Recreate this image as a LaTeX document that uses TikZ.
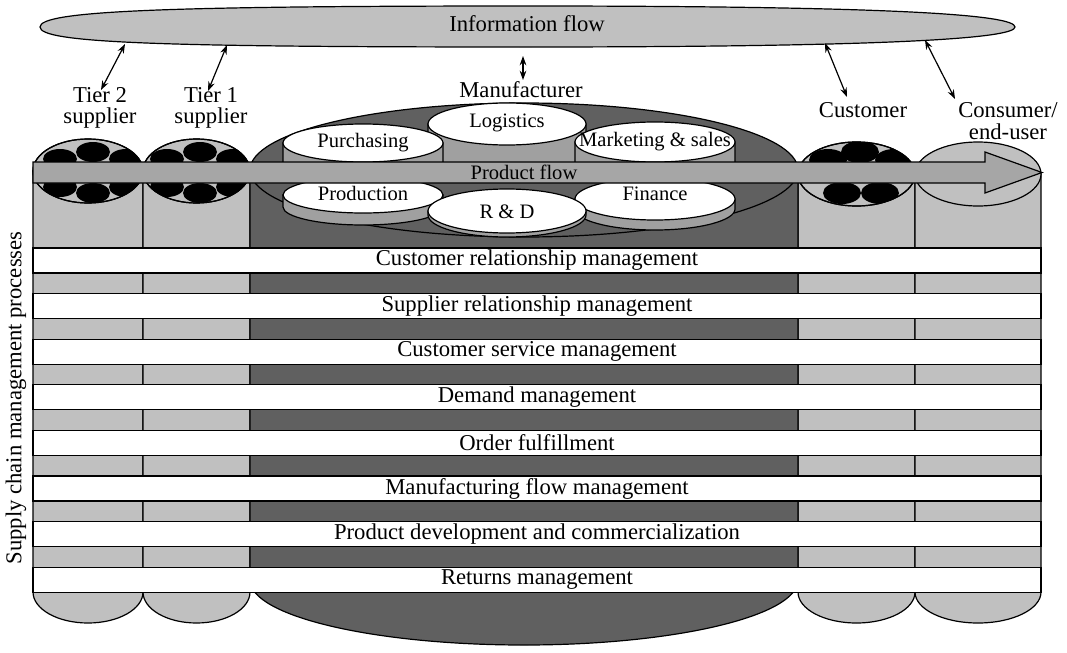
\documentclass[tikz,border=0pt]{standalone}
\usepackage{fontspec}
\setmainfont{Liberation Serif}
\usetikzlibrary{arrows.meta}

\definecolor{cylgray}{HTML}{C0C0C0}
\definecolor{mfgdark}{HTML}{606060}
\definecolor{flowgray}{HTML}{A6A6A6}
\definecolor{unitgray}{HTML}{A0A0A0}

\tikzset{
  outl/.style={draw=black, line width=0.9pt},
  lbl/.style={font=\fontsize{17}{16}\selectfont, align=center, inner sep=0pt},
  unitlbl/.style={font=\fontsize{15.4}{15}\selectfont, inner sep=0pt},
  link/.style={line width=0.9pt, {Stealth[length=7pt,width=5pt]}-{Stealth[length=7pt,width=5pt]}},
  band/.style={outl, fill=white},
  dot/.style={fill=black},
}

\begin{document}
\begin{tikzpicture}[x=0.75pt, y=-0.75pt]
\useasboundingbox (0,0) rectangle (1067,653);

% ---------- information flow ----------
\path[outl, fill=cylgray]
  (40,27) .. controls (40,43) and (160,47) .. (527,47)
  .. controls (900,47) and (1015,38) .. (1015,27)
  .. controls (1015,15) and (900,6) .. (527,6)
  .. controls (160,6) and (40,11) .. (40,27) -- cycle;
\node[lbl] (info) at (527,24) {Information flow};

% ---------- cylinder bodies ----------
% light cylinders: left x / right x / top-ellipse centre y
\foreach \xa/\xb/\yt in {33/143/171, 143/250/171, 798/915/174, 915/1041/174}{
  \path[outl, fill=cylgray] (\xa,\yt) -- (\xa,592)
    arc[start angle=180, end angle=0, x radius={(\xb-\xa)/2}, y radius=31]
    -- (\xb,\yt) -- cycle;
}
% manufacturer body
\path[outl, fill=mfgdark] (250,170) -- (250,580)
  arc[start angle=180, end angle=0, x radius=274, y radius=65]
  -- (798,170) -- cycle;

% ---------- cylinder tops with stock ----------
% suppliers: centre x / x radius / shift of the stock pattern
\foreach \cx/\rx/\sh in {88/55/0, 196.5/53.5/107}{
  \path[outl, fill=cylgray] (\cx,171) ellipse[x radius=\rx, y radius=32];
  \begin{scope}
    \clip (\cx,171) ellipse[x radius=\rx, y radius=32];
    \foreach \dx/\dy in {93/152, 60/159, 126/159, 60/187, 93/193, 126/187}
      \fill[dot] (\dx+\sh,\dy) ellipse[x radius=17, y radius=10];
  \end{scope}
  \path[outl] (\cx,171) ellipse[x radius=\rx, y radius=32];
}
% customer
\path[outl, fill=cylgray] (856.5,174) ellipse[x radius=58.5, y radius=32];
\begin{scope}
  \clip (856.5,174) ellipse[x radius=58.5, y radius=32];
  \foreach \dx/\dy in {860/152, 828/160, 894/160, 842/193, 880/193}
    \fill[dot] (\dx,\dy) ellipse[x radius=19, y radius=11];
\end{scope}
\path[outl] (856.5,174) ellipse[x radius=58.5, y radius=32];
% consumer
\path[outl, fill=cylgray] (978,174) ellipse[x radius=63, y radius=32];

% manufacturer top
\path[outl, fill=mfgdark] (524,170) ellipse[x radius=274, y radius=67];

% ---------- functional units inside the manufacturer ----------
% centre x / centre y / x radius / y radius / side height
\foreach \cx/\cy/\rx/\ry/\h in {507/124/79/21/30, 363/143/80/19/25, 655/142/80/20/25,
                               363/195/80/18/12, 655/199/80/21/10, 507/211/79/22/4}{
  \path[outl, fill=unitgray] (\cx-\rx,\cy) -- (\cx-\rx,\cy+\h)
    arc[start angle=180, end angle=0, x radius=\rx, y radius=\ry]
    -- (\cx+\rx,\cy) -- cycle;
  \path[outl, fill=white] (\cx,\cy) ellipse[x radius=\rx, y radius=\ry];
}

% ---------- product flow ----------
\path[outl, fill=flowgray] (33,162) -- (985,162) -- (985,152) -- (1042,172.5)
  -- (985,193) -- (985,183) -- (33,183) -- cycle;
\node[unitlbl] (pflow) at (524,172) {Product flow};

\node[unitlbl] (logi) at (507,123) {Logistics};
\node[unitlbl] (purch) at (363,143) {Purchasing};
\node[unitlbl] (mkt) at (655,142) {Marketing \& sales};
\node[unitlbl] (prod) at (363,193) {Production};
\node[unitlbl] (fin) at (655,194) {Finance};
\node[unitlbl] (rd) at (507,212) {R \& D};

% ---------- process bands ----------
\foreach \t [count=\i from 0] in {Customer relationship management,
    Supplier relationship management, Customer service management,
    Demand management, Order fulfillment, Manufacturing flow management,
    Product development and commercialization, Returns management}{
  \path[band] (33,{248+45.6*\i}) rectangle (1041,{273+45.6*\i});
  \node[lbl] (proc\i) at (537,{260.5+45.6*\i}) {\t};
}
\node[lbl, rotate=90] (scmp) at (16,398) {Supply chain management processes};

% ---------- members ----------
\node[lbl] (tier2) at (100,108) {Tier 2\\supplier};
\node[lbl] (tier1) at (211,108) {Tier 1\\supplier};
\node[lbl] (manu) at (521,90) {Manufacturer};
\node[lbl] (cust) at (863,110) {Customer};
\node[lbl] (cons) at (1008,121) {Consumer/\\end-user};

% ---------- information links ----------
\coordinate (i2) at (125,44);
\coordinate (i1) at (227,45);
\coordinate (im) at (523,56);
\coordinate (ic) at (825,43);
\coordinate (ie) at (925,40);
\coordinate (t2) at (101,90);
\coordinate (t1) at (208,91);
\coordinate (tm) at (523,80);
\coordinate (tc) at (847,97);
\coordinate (te) at (955,99);
\draw[link] (i2) -- (t2);
\draw[link] (i1) -- (t1);
\draw[link] (im) -- (tm);
\draw[link] (ic) -- (tc);
\draw[link] (ie) -- (te);
\end{tikzpicture}
\end{document}
